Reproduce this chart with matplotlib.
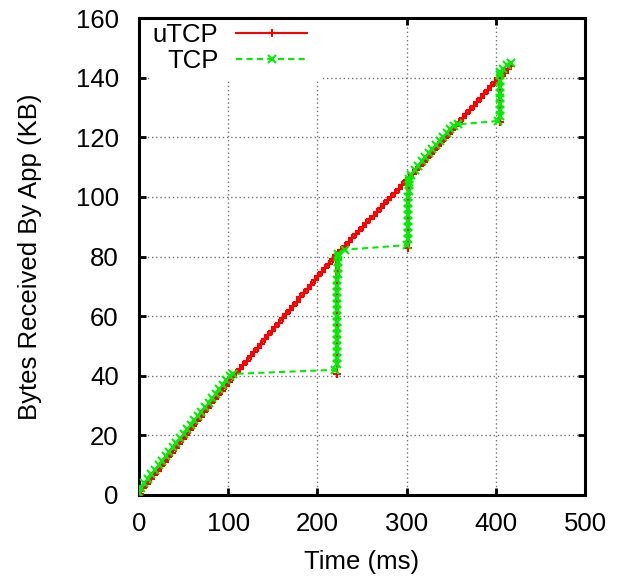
import matplotlib
matplotlib.use("Agg")
import matplotlib.pyplot as plt
from matplotlib.patches import Rectangle

plt.rcParams['font.family'] = ['Liberation Sans', 'DejaVu Sans']

# uTCP series (time ms, KB)
utcp_t = [1, 5, 9, 13, 17, 21, 25, 29, 33, 37, 41, 45, 49, 53, 57, 61, 65, 69, 73, 77,
          81, 85, 89, 93, 97, 101, 105, 109, 113, 117, 121, 125, 129, 133, 137, 141, 145,
          149, 153, 157, 161, 165, 169, 173, 177, 181, 185, 189, 193, 197, 201, 205, 209,
          213, 217, 221, 222, 223, 227, 231, 235, 239, 243, 247, 251, 255, 259, 263, 267,
          271, 275, 279, 283, 287, 291, 295, 299, 301, 302, 303, 307, 311, 315, 319, 323,
          327, 331, 335, 339, 343, 347, 351, 355, 359, 363, 367, 371, 375, 379, 383, 387,
          391, 395, 399, 403, 405, 406, 410, 414, 417]
utcp_v = [0.5, 2.2, 3.7, 5.2, 6.7, 8.2, 9.7, 11.2, 12.7, 14.2, 15.7, 17.2, 18.7, 20.2, 21.7,
          23.2, 24.7, 26.2, 27.7, 29.2, 30.7, 32.2, 33.6, 35.0, 36.5, 38.0, 39.5, 40.9, 42.3,
          43.7, 45.1, 46.6, 48.0, 49.4, 50.8, 52.2, 53.6, 55.0, 56.4, 57.8, 59.3, 60.7, 62.1,
          63.5, 64.9, 66.3, 67.7, 69.1, 70.6, 72.0, 73.4, 74.8, 76.2, 77.6, 79.0, 80.4, 40.5,
          81.0, 82.3, 83.5, 84.8, 86.1, 87.4, 88.6, 89.9, 91.2, 92.5, 93.7, 95.0, 96.3, 97.6,
          98.8, 100.1, 101.4, 102.6, 103.9, 105.2, 105.8, 83.0, 106.3, 107.6, 109.0, 110.3,
          111.6, 113.0, 114.3, 115.7, 117.0, 118.3, 119.7, 121.0, 122.4, 123.7, 125.0, 126.4,
          127.7, 129.1, 130.4, 131.7, 133.1, 134.4, 135.8, 137.1, 138.4, 139.8, 125.0, 140.5,
          141.7, 143.0, 144.0]

# TCP series (time ms, KB)
tcp_t = [0, 2, 6, 10, 14, 18, 22, 26, 30, 34, 38, 42, 46, 50, 54, 58, 62, 66, 70, 74, 78,
         82, 86, 90, 94, 98, 102, 105, 220,
         221.6, 221.7, 221.8, 221.9, 222.0, 222.1, 222.1, 222.2, 222.2, 222.3, 222.3,
         222.4, 222.4, 222.5, 222.5, 222.6, 222.6, 222.7, 222.7, 222.8, 231, 300,
         301.4, 301.5, 301.6, 301.7, 301.8, 301.9, 302.0, 302.1, 302.2, 302.3, 302.4, 302.5,
         305, 309, 313, 317, 321, 325, 329, 333, 337, 341, 345, 349, 353, 358, 403,
         404.4, 404.5, 404.6, 404.7, 404.8, 404.9, 405.0, 405.1, 405.2, 408, 413, 417]
tcp_v = [0.8, 2.5, 4.0, 5.5, 7.0, 8.5, 10.0, 11.5, 13.0, 14.5, 16.0, 17.5, 19.0, 20.5, 22.0,
         23.5, 25.0, 26.5, 28.0, 29.5, 31.0, 32.5, 34.0, 35.5, 37.0, 38.5, 39.8, 40.6, 42.0,
         44.0, 46.0, 48.0, 50.0, 52.0, 54.0, 56.0, 58.0, 60.0, 62.0, 64.0, 66.0, 68.0, 70.0,
         72.0, 74.0, 76.0, 78.0, 80.0, 81.0, 82.3, 83.8,
         86.0, 88.0, 90.0, 92.0, 94.0, 96.0, 98.0, 100.0, 102.0, 104.0, 105.0, 106.0,
         107.5, 109.0, 110.5, 112.0, 113.3, 114.7, 116.0, 117.4, 118.8, 120.2, 121.5, 122.8,
         123.7, 124.3, 125.5,
         127.0, 129.0, 131.0, 133.0, 135.0, 137.0, 139.0, 141.0, 142.0, 143.0, 144.2, 145.0]

x_ticks = [0, 100, 200, 300, 400, 500]
y_ticks = [0, 20, 40, 60, 80, 100, 120, 140, 160]

FS = 18.5
fig = plt.figure(figsize=(6.24, 5.76), dpi=100)
ax = fig.add_axes([139/624, 1 - 495/576, (585-139)/624, (495-18)/576])

ax.plot(utcp_t, utcp_v, color='#ff0000', lw=1.5, marker='+', ms=6, mew=1.5,
        label='uTCP', zorder=3)
ax.plot(tcp_t, tcp_v, color='#00ee00', lw=1.5, ls=(0, (3, 2)), marker='x', ms=6, mew=1.5,
        label='TCP', zorder=4)

ax.set_xlim(0, 500)
ax.set_ylim(0, 160)
ax.set_xticks(x_ticks)
ax.set_yticks(y_ticks)
ax.tick_params(direction='in', length=5, width=2, top=True, right=True,
               labelsize=FS, pad=12)
ax.tick_params(axis='y', pad=14.5)
for s in ax.spines.values():
    s.set_linewidth(2.2)
ax.grid(True, color='0.45', ls=(0, (1, 2)), lw=1)
ax.set_axisbelow(True)

# opaque key area (masks grid behind the legend)
ax.add_patch(Rectangle((0.029, 0.868), 0.381, 0.132, transform=ax.transAxes,
                       facecolor='white', edgecolor='none', zorder=1))

ax.set_xlabel('Time (ms)', fontsize=FS, labelpad=10)
ax.set_ylabel('Bytes Received By App (KB)', fontsize=FS, labelpad=24)

leg = ax.legend(loc='upper right', bbox_to_anchor=(0.377, 0.99), frameon=False,
                markerfirst=False, fontsize=FS, handlelength=2.75, handletextpad=0.7,
                labelspacing=0.1, borderpad=0, numpoints=1, borderaxespad=0)

fig.savefig('out.png', dpi=100)
